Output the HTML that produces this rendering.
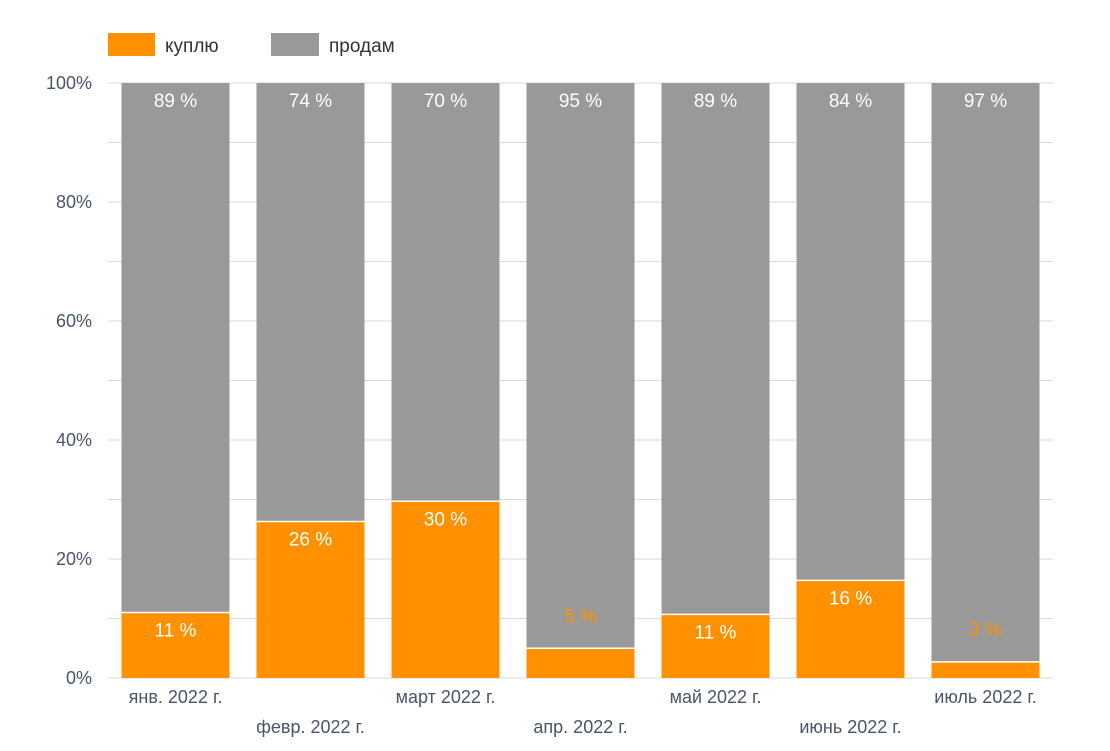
<!DOCTYPE html>
<html><head><meta charset="utf-8"><style>
body{margin:0;background:#fff;font-family:"Liberation Sans","DejaVu Sans",sans-serif;}
text{font-family:"Liberation Sans","DejaVu Sans",sans-serif;}
</style></head><body>
<svg id="chart" width="1110" height="746" viewBox="0 0 1110 746">
<g id="legend">
<rect x="108" y="33" width="47" height="23" fill="#ff9100"/>
<text x="165" y="52" font-size="19" fill="#333">куплю</text>
<rect x="271" y="33" width="48" height="23" fill="#999999"/>
<text x="329" y="52" font-size="19" fill="#333">продам</text>
</g>
<g id="grid"></g><g id="bars"></g><g id="labels"></g>
</svg>
<script>
const categories=["янв. 2022 г.","февр. 2022 г.","март 2022 г.","апр. 2022 г.","май 2022 г.","июнь 2022 г.","июль 2022 г."];
const buyValues=[11,26.3,29.7,5,10.7,16.4,2.7];
const sellValues=[89,73.7,70.3,95,89.3,83.6,97.3];
const buyLabels=["11 %","26 %","30 %","5 %","11 %","16 %","3 %"];
const sellLabels=["89 %","74 %","70 %","95 %","89 %","84 %","97 %"];
const yTicks=[0,20,40,60,80,100];
const ns="http://www.w3.org/2000/svg";
const x0=108,x1=1053,y0=678,y1=83;
const y=v=>y0-(v/100)*(y0-y1);
const bw=(x1-x0)/categories.length;
const xc=i=>x0+bw*(i+0.5);
const barW=108;
function mk(tag,attrs,parent){const e=document.createElementNS(ns,tag);for(const k in attrs)e.setAttribute(k,attrs[k]);document.getElementById(parent).appendChild(e);return e;}
for(let v=0;v<=100;v+=10){
 const l=mk("line",{x1:x0,x2:x1,y1:y(v),y2:y(v),stroke:"#d9d9d9","stroke-width":1},"grid");
 
 
}
yTicks.forEach(v=>{
 const t=mk("text",{x:92,y:y(v)+6,"text-anchor":"end","font-size":18,fill:"#4a5568"},"grid");
 t.textContent=v+"%";
 
 
});
categories.forEach((c,i)=>{
 const cx=xc(i),bx=cx-barW/2;
 const b=buyValues[i],s=sellValues[i];
 const r1=mk("rect",{x:bx,y:y(b),width:barW,height:y0-y(b),fill:"#ff9100"},"bars");
 
 
 const r2=mk("rect",{x:bx,y:y(b+s),width:barW,height:y(b)-y(b+s),fill:"#999999"},"bars");
 
 
 const sep=mk("line",{x1:bx,x2:bx+barW,y1:y(b),y2:y(b),stroke:"#fff","stroke-width":1.5},"bars");
 
 
 const ts=mk("text",{x:cx,y:y(b+s)+24,"text-anchor":"middle","font-size":19,fill:"#fff"},"labels");
 ts.textContent=sellLabels[i];
 
 
 const small=(y0-y(b))<40;
 const tb=mk("text",{x:cx,y:small?y(b)-26:y(b)+24,"text-anchor":"middle","font-size":19,fill:small?"#ff9100":"#fff"},"labels");
 tb.textContent=buyLabels[i];
 
 
 const xl=mk("text",{x:cx,y:i%2===0?703:733,"text-anchor":"middle","font-size":18,fill:"#4a5568"},"labels");
 xl.textContent=c;
 
 
});
</script>
</body></html>
